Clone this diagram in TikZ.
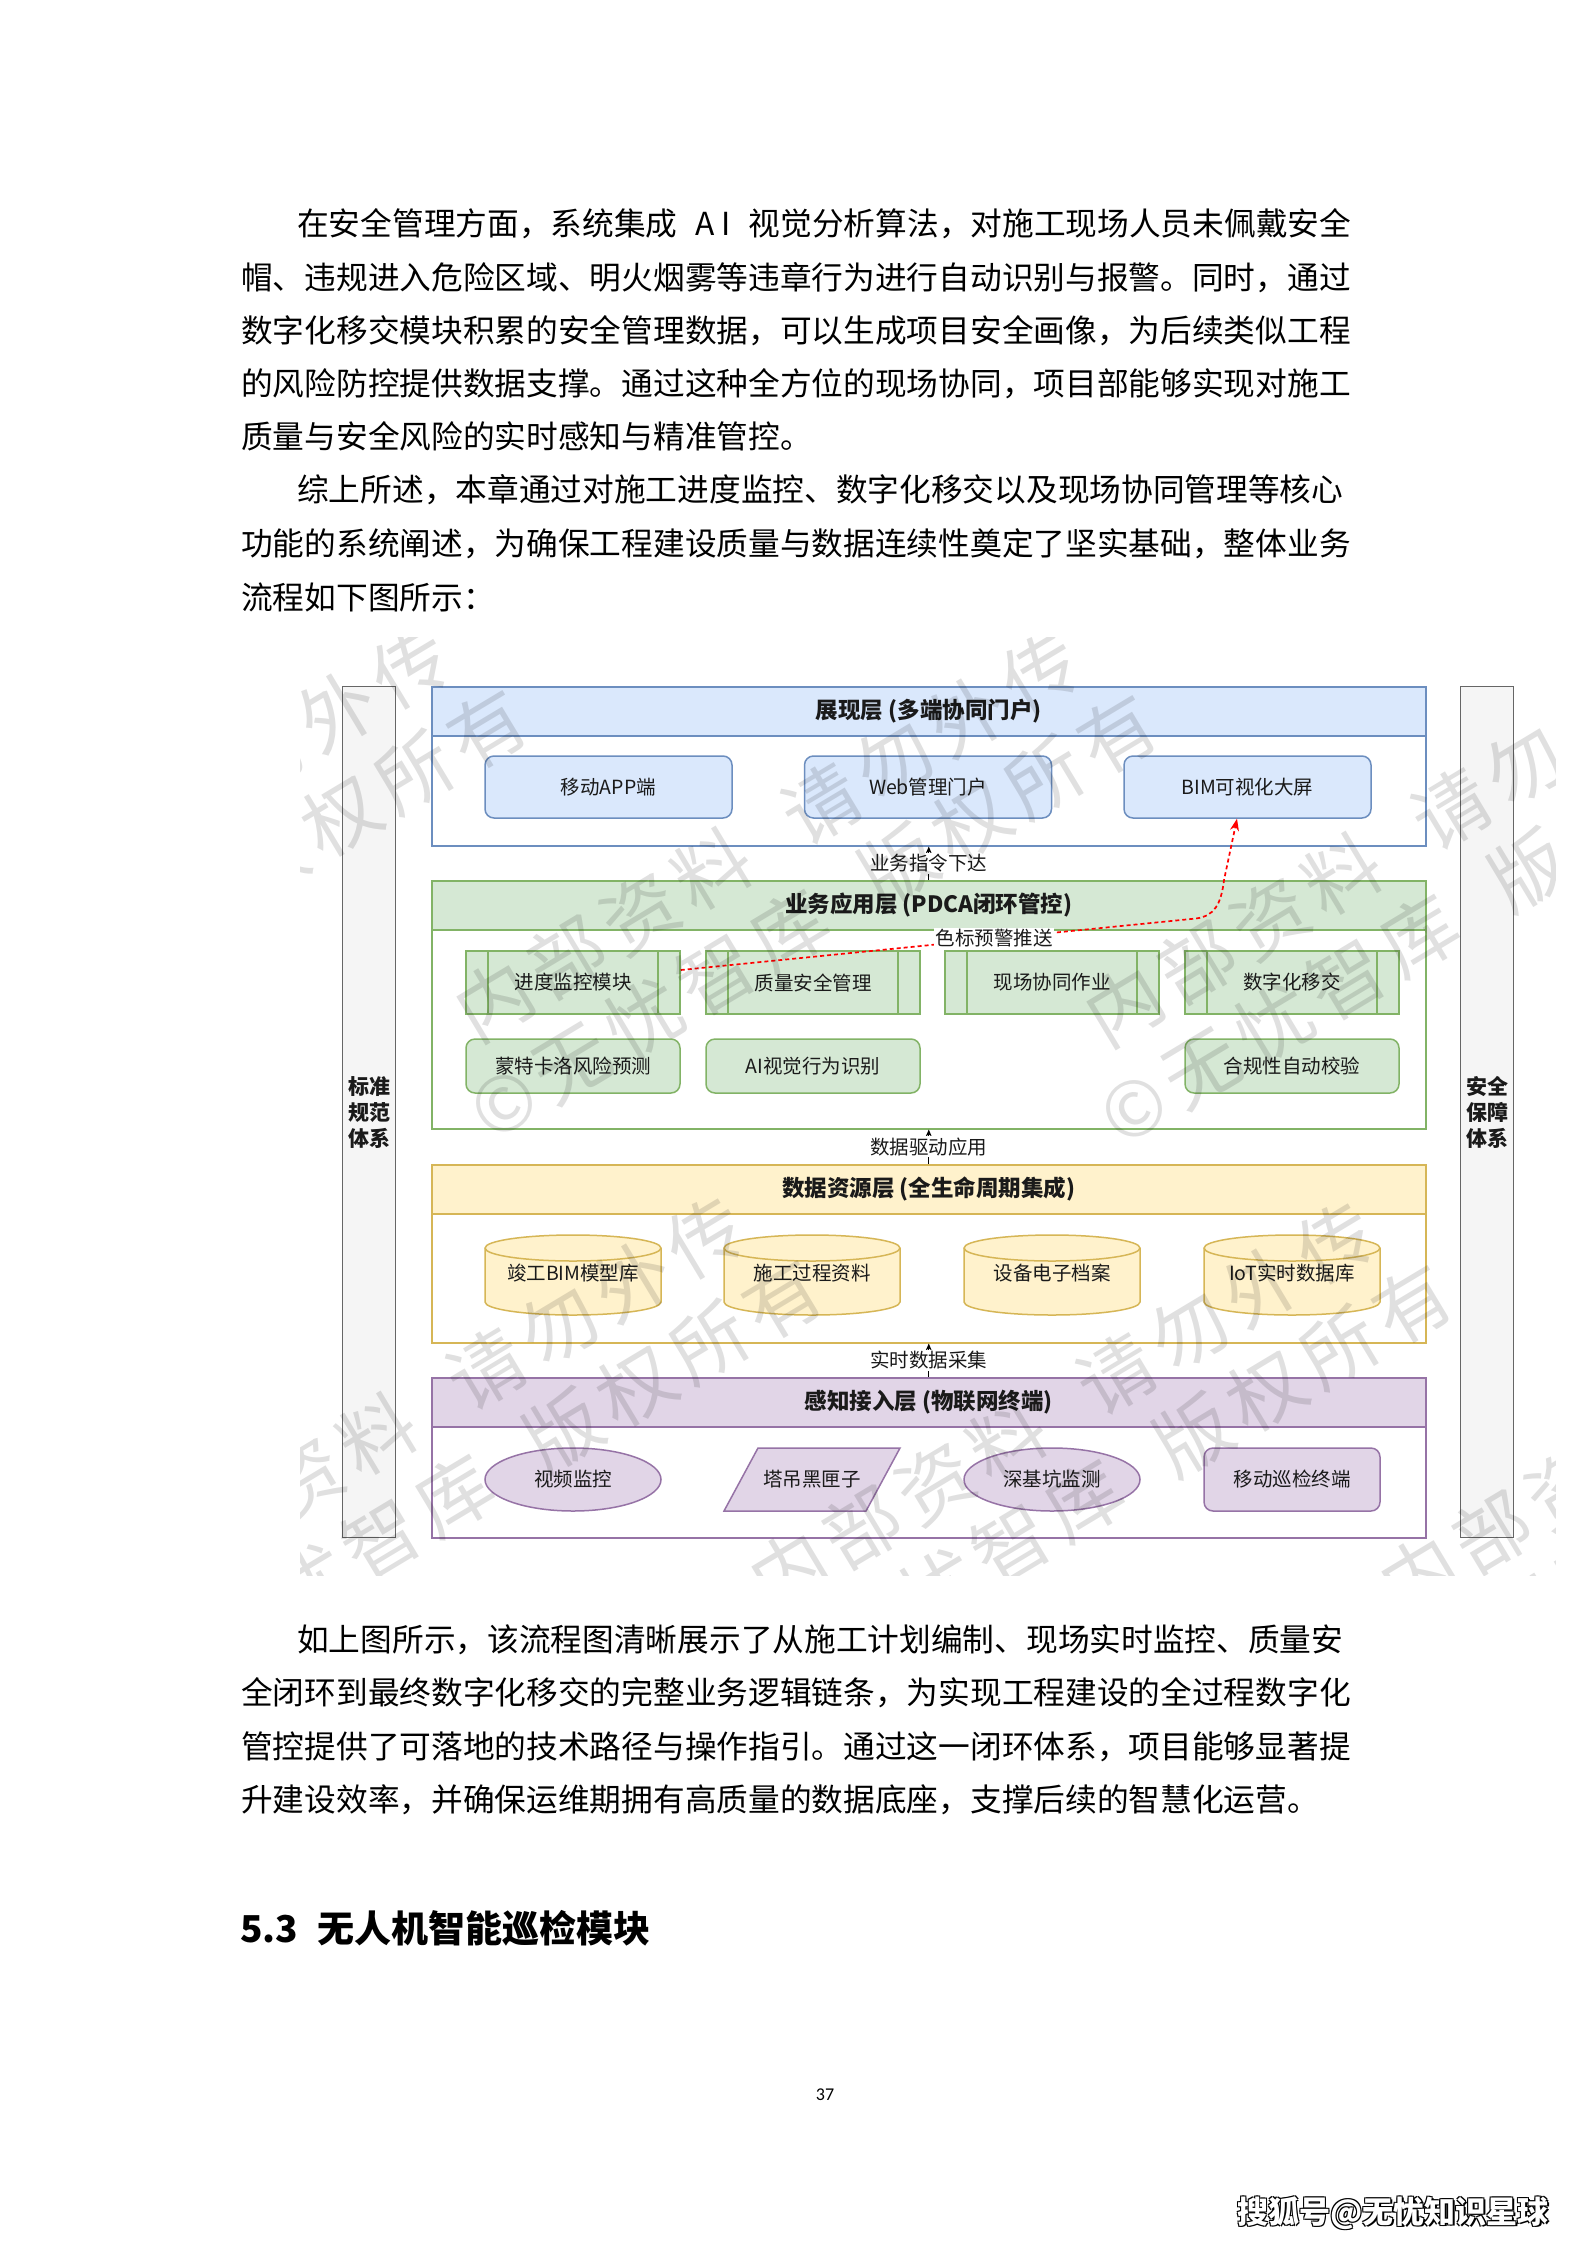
\documentclass[tikz,border=0pt]{standalone}
\usepackage{fontspec}
\setmainfont{Noto Sans CJK SC}
\newfontfamily\numfont{Carlito}
\usetikzlibrary{shapes.geometric,arrows.meta}
\definecolor{bluef}{HTML}{DAE8FC}
\definecolor{blued}{HTML}{6C8EBF}
\definecolor{greenf}{HTML}{D5E8D4}
\definecolor{greend}{HTML}{82B366}
\definecolor{yelf}{HTML}{FFF2CC}
\definecolor{yeld}{HTML}{D6B656}
\definecolor{purf}{HTML}{E1D5E7}
\definecolor{purd}{HTML}{9673A6}
\definecolor{sidef}{HTML}{F5F5F5}
\definecolor{sided}{HTML}{666666}
\definecolor{txt}{HTML}{1A1A1A}
\definecolor{alertred}{HTML}{FF0000}
\newcommand\cylshape[1]{%
  \draw[draw=yeld,fill=yelf,line width=1.5pt]
    ([shift={(-88,27)}]#1) -- ([shift={(-88,-27)}]#1)
    arc[start angle=180,end angle=360,x radius=88,y radius=13]
    -- ([shift={(88,27)}]#1)
    arc[start angle=0,end angle=180,x radius=88,y radius=13] -- cycle;
  \draw[yeld,line width=1.5pt] ([shift={(-88,27)}]#1)
    arc[start angle=180,end angle=360,x radius=88,y radius=13];}
\begin{document}
\begin{tikzpicture}[x=1pt,y=1pt,
  body/.style={anchor=base west,inner sep=0pt,font=\fontsize{31.7}{38}\selectfont,text=black},
  layer/.style={draw=#1,line width=1.5pt,fill=white,minimum width=994,anchor=north west,inner sep=0pt},
  head/.style 2 args={draw=#2,fill=#1,line width=1.5pt,minimum width=994,minimum height=49,anchor=north west,inner sep=0pt,font=\bfseries\fontsize{22.5}{26}\selectfont,text=txt},
  nt/.style={font=\fontsize{19.5}{23}\selectfont,text=txt,inner sep=0pt,align=center},
  bluebox/.style={nt,draw=blued,fill=bluef,line width=1.5pt,rounded corners=9pt,minimum width=247,minimum height=62},
  proc/.style={nt,draw=greend,fill=greenf,line width=1.5pt,minimum width=214,minimum height=63,
    path picture={\draw[greend,line width=1.3pt]
      ([xshift=22]path picture bounding box.north west) -- ([xshift=22]path picture bounding box.south west)
      ([xshift=-22]path picture bounding box.north east) -- ([xshift=-22]path picture bounding box.south east);}},
  groundbox/.style={nt,draw=greend,fill=greenf,line width=1.5pt,rounded corners=9pt,minimum width=214,minimum height=54},
  purell/.style={nt,ellipse,draw=purd,fill=purf,line width=1.5pt,minimum width=176,minimum height=63},
  purround/.style={nt,draw=purd,fill=purf,line width=1.5pt,rounded corners=9pt,minimum width=176,minimum height=63},
  side/.style={draw=sided,fill=sidef,line width=1.3pt,minimum width=53,minimum height=851,anchor=north west,inner sep=0pt,align=center,font=\bfseries\fontsize{21}{26}\selectfont,text=txt},
  flow/.style={-{Stealth[length=7pt,width=6pt]},line width=1.2pt,black},
  lab/.style={nt,fill=white,inner sep=1.5pt},
  wm/.style={font=\fontsize{76}{80}\selectfont,text=black,text opacity=0.12,inner sep=0pt,rotate=31},
  foot/.style={font=\bfseries\fontsize{31}{33}\selectfont,inner sep=0pt}
]
\path[use as bounding box,fill=white] (0,0) rectangle (1587,-2245);

% ---------- body text ----------
\node[body] (t1) at (297,-235) {\hbox to 1054pt{在安全管理方面，系统集成\hfill\makebox[44pt][c]{A\kern6pt I}\hfill 视觉分析算法，对施工现场人员未佩戴安全}};
\node[body] (t2) at (241,-289) {帽、违规进入危险区域、明火烟雾等违章行为进行自动识别与报警。同时，通过};
\node[body] (t3) at (241,-342) {数字化移交模块积累的安全管理数据，可以生成项目安全画像，为后续类似工程};
\node[body] (t4) at (241,-395) {的风险防控提供数据支撑。通过这种全方位的现场协同，项目部能够实现对施工};
\node[body] (t5) at (241,-448) {质量与安全风险的实时感知与精准管控。};
\node[body] (t6) at (297,-501.5) {综上所述，本章通过对施工进度监控、数字化移交以及现场协同管理等核心};
\node[body] (t7) at (241,-555.5) {功能的系统阐述，为确保工程建设质量与数据连续性奠定了坚实基础，整体业务};
\node[body] (t8) at (241,-609) {流程如下图所示：};

\node[body] (t9) at (297,-1651) {如上图所示，该流程图清晰展示了从施工计划编制、现场实时监控、质量安};
\node[body] (t10) at (241,-1704) {全闭环到最终数字化移交的完整业务逻辑链条，为实现工程建设的全过程数字化};
\node[body] (t11) at (241,-1758) {管控提供了可落地的技术路径与操作指引。通过这一闭环体系，项目能够显著提};
\node[body] (t12) at (241,-1811) {升建设效率，并确保运维期拥有高质量的数据底座，支撑后续的智慧化运营。};

\node[anchor=base west,inner sep=0pt,font=\bfseries\fontsize{37}{40}\selectfont] (h53) at (240,-1942) {\makebox[77pt][l]{5.3}无人机智能巡检模块};

\node[font=\numfont\fontsize{18}{20}\selectfont,inner sep=0pt] (pnum) at (825,-2095) {37};

% ---------- side bars ----------
\node[side] (sideL) at (342,-686) {标准\\规范\\体系};
\node[side] (sideR) at (1460,-686) {安全\\保障\\体系};

% ---------- layers ----------
\node[layer=blued,minimum height=159] (L1) at (431,-686) {};
\node[head={bluef}{blued}] (H1) at (431,-686) {展现层 (多端协同门户)};
\node[layer=greend,minimum height=248] (L2) at (431,-880) {};
\node[head={greenf}{greend}] (H2) at (431,-880) {业务应用层 (PDCA闭环管控)};
\node[layer=yeld,minimum height=178] (L3) at (431,-1164) {};
\node[head={yelf}{yeld}] (H3) at (431,-1164) {数据资源层 (全生命周期集成)};
\node[layer=purd,minimum height=160] (L4) at (431,-1377) {};
\node[head={purf}{purd}] (H4) at (431,-1377) {感知接入层 (物联网终端)};

% presentation
\node[bluebox] (app) at (608.5,-787) {移动APP端};
\node[bluebox] (web) at (928,-787) {Web管理门户};
\node[bluebox] (bim) at (1247.5,-787) {BIM可视化大屏};

% application
\node[proc] (p1) at (573,-982.5) {进度监控模块};
\node[proc] (p2) at (813,-982.5) {质量安全管理};
\node[proc] (p3) at (1052,-982.5) {现场协同作业};
\node[proc] (p4) at (1292,-982.5) {数字化移交};
\node[groundbox] (r1) at (573,-1066) {蒙特卡洛风险预测};
\node[groundbox] (r2) at (813,-1066) {AI视觉行为识别};
\node[groundbox] (r3) at (1292,-1066) {合规性自动校验};

% data
\coordinate (cc1) at (573,-1275);
\coordinate (cc2) at (812,-1275);
\coordinate (cc3) at (1052,-1275);
\coordinate (cc4) at (1292,-1275);
\cylshape{cc1}\cylshape{cc2}\cylshape{cc3}\cylshape{cc4}
\node[nt] (c1) at ([yshift=2]cc1) {竣工BIM模型库};
\node[nt] (c2) at ([yshift=2]cc2) {施工过程资料};
\node[nt] (c3) at ([yshift=2]cc3) {设备电子档案};
\node[nt] (c4) at ([yshift=2]cc4) {IoT实时数据库};

% perception
\node[purell] (e1) at (573,-1479.5) {视频监控};
\coordinate (pgc) at (812,-1479.5);
\draw[draw=purd,fill=purf,line width=1.5pt]
  ([shift={(-88,-31.5)}]pgc) -- ([shift={(-54,31.5)}]pgc) -- ([shift={(88,31.5)}]pgc) -- ([shift={(54,-31.5)}]pgc) -- cycle;
\node[nt] (pg) at (pgc) {塔吊黑匣子};
\node[purell] (e2) at (1052,-1479.5) {深基坑监测};
\node[purround] (mob) at (1292,-1479.5) {移动巡检终端};

% ---------- connectors ----------
\draw[flow] (L2.north) -- (L1.south) node[lab,midway] (lab1) {业务指令下达};
\draw[flow] (L3.north) -- (L2.south) node[lab,midway] (lab2) {数据驱动应用};
\draw[flow] (L4.north) -- (L3.south) node[lab,midway] (lab3) {实时数据采集};

\draw[alertred,line width=1.7pt,dash pattern=on 4pt off 3pt,-{Stealth[length=12pt,width=9pt]}]
  ([yshift=12.5]p1.east) -- (1196,-918.5) .. controls (1214,-916) and (1221,-905) .. (1224,-880)
  -- ([xshift=-10.5]bim.south);
\node[lab] (lab4) at (994,-938) {色标预警推送};

% ---------- watermark ----------
\begin{scope}
\clip (300,-637) rectangle (1555,-1575);
\foreach \cx/\cy [count=\k] in {137/831.5, 767/836.5, 1397/841.5, 432/1401.5, 1062/1406.5, 1692/1411.5} {
  \node[wm] (wa\k) at (\cx,-\cy) {内\kern9pt 部\kern9pt 资\kern9pt 料\kern51pt 请\kern9pt 勿\kern9pt 外\kern9pt 传};
  \node[wm] (wb\k) at ({\cx+46},{-\cy-80}) {©\kern9pt 无\kern9pt 忧\kern9pt 智\kern9pt 库\kern51pt 版\kern9pt 权\kern9pt 所\kern9pt 有};
}
\end{scope}

% ---------- footer ----------
\node[foot,text=black] (fs1) at (1394.5,-2214.5) {搜狐号@无忧知识星球};
\node[foot,text=black] (fs2) at (1392,-2212) {搜狐号@无忧知识星球};
\node[foot,text=black] (fs3) at (1394,-2212) {搜狐号@无忧知识星球};
\node[foot,text=black] (fs4) at (1392,-2214) {搜狐号@无忧知识星球};
\node[foot,text=white] (foot) at (1393,-2213) {搜狐号@无忧知识星球};
\end{tikzpicture}
\end{document}
